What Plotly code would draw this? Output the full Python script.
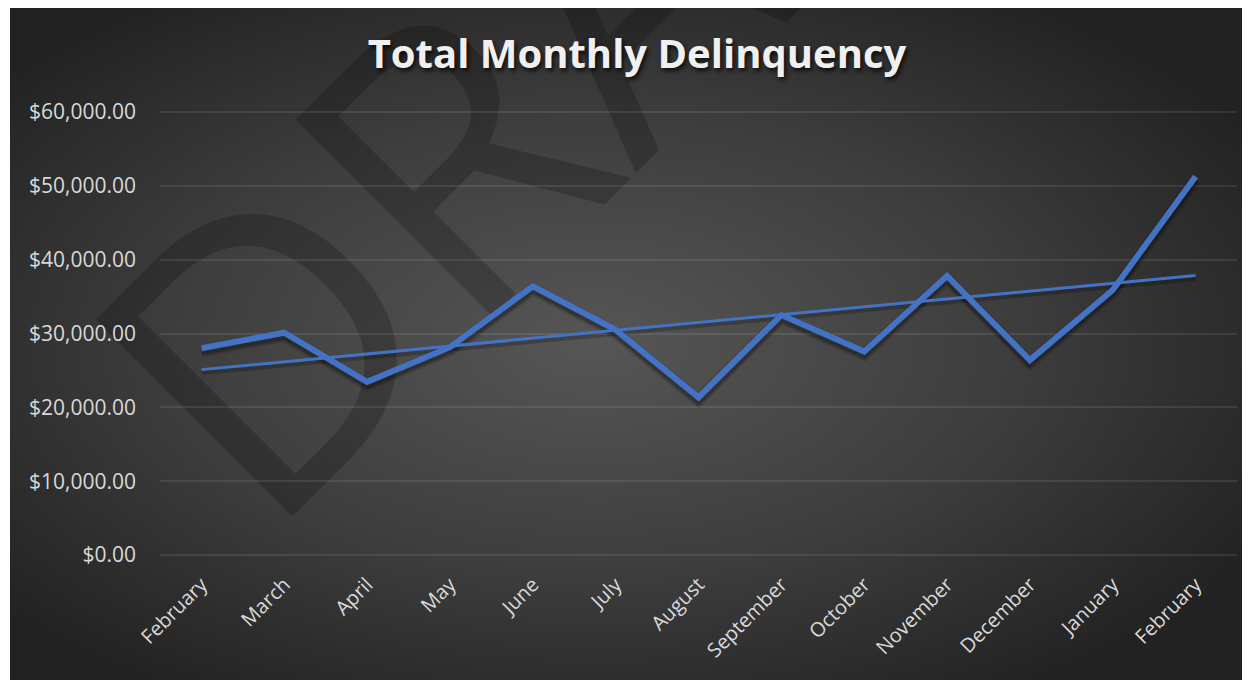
import base64
import numpy as np
import plotly.graph_objects as go

# ---------------- data ----------------
months = ["February", "March", "April", "May", "June", "July", "August",
          "September", "October", "November", "December", "January", "February"]
delinquency = [28000, 30100, 23450, 28150, 36400, 30500, 21350,
               32500, 27550, 37800, 26400, 35900, 51250]
y_tick_values = [0, 10000, 20000, 30000, 40000, 50000, 60000]
title_text = "Total Monthly Delinquency"
watermark_text = "DRAFT"

# ---------------- derived ----------------
idx = list(range(len(months)))
coef = np.polyfit(idx, delinquency, 1)
trend = list(np.polyval(coef, idx))

# page has an 8px body margin; work in page pixels and convert
OFF = 8
W, H = 1250 - OFF, 680 - OFF
YMAX = 60000
# page pixel positions of plot frame
P_LEFT, P_RIGHT, P_TOP, P_BOT = 160, 1237, 112, 555
scale = (P_BOT - P_TOP) / YMAX
pad_px = 2
pad = pad_px / scale

L = P_LEFT - OFF
R = W - (P_RIGHT - OFF)
T = (P_TOP - OFF) - pad_px
B = H - (P_BOT - OFF) - pad_px
PW = W - L - R
PH = H - T - B


def px(xp):
    return (xp - OFF - L) / PW


def py(yp):
    return (H - B - (yp - OFF)) / PH


# background panel (radial gradient) as svg image
panel_w, panel_h = 1240, 674
svg = (
    f"<svg xmlns='http://www.w3.org/2000/svg' width='{panel_w}' height='{panel_h}' "
    f"viewBox='0 0 {panel_w} {panel_h}' preserveAspectRatio='none'>"
    "<defs><radialGradient id='g' cx='0.47' cy='0.5' r='0.62'>"
    "<stop offset='0' stop-color='#565656'/>"
    "<stop offset='0.55' stop-color='#3d3d3d'/>"
    "<stop offset='1' stop-color='#222222'/>"
    "</radialGradient></defs>"
    f"<rect width='{panel_w}' height='{panel_h}' fill='url(#g)'/></svg>"
)
svg_uri = "data:image/svg+xml;base64," + base64.b64encode(svg.encode()).decode()

blue = "#4472C4"
shadow_shift = 3 / scale  # 3 px downward on the shadow axis

fig = go.Figure()

# shadows (base axis y, shifted down, hidden)
fig.add_trace(go.Scatter(x=idx, y=delinquency, mode="lines", yaxis="y",
                         line=dict(color="rgba(0,0,0,0.14)", width=12),
                         hoverinfo="skip", showlegend=False))
fig.add_trace(go.Scatter(x=idx, y=delinquency, mode="lines", yaxis="y",
                         line=dict(color="rgba(0,0,0,0.25)", width=8),
                         hoverinfo="skip", showlegend=False))
fig.add_trace(go.Scatter(x=idx, y=trend, mode="lines", yaxis="y",
                         line=dict(color="rgba(0,0,0,0.22)", width=5),
                         hoverinfo="skip", showlegend=False))
# trend line (visible value axis y2)
fig.add_trace(go.Scatter(x=idx, y=trend, mode="lines", yaxis="y2",
                         line=dict(color=blue, width=3),
                         name="Linear (Total)", showlegend=False))
# main series
fig.add_trace(go.Scatter(x=idx, y=delinquency, mode="lines", yaxis="y2",
                         line=dict(color=blue, width=6),
                         name="Total", showlegend=False))

# watermark centre (page pixels)
wm_cx = px(597)
wm_cy = py(36)

fig.update_layout(
    width=W, height=H,
    margin=dict(l=L, r=R, t=T, b=B, pad=0),
    paper_bgcolor="white",
    plot_bgcolor="rgba(0,0,0,0)",
    showlegend=False,
    title=dict(text=title_text, x=px(637), xref="paper", xanchor="center",
               y=1 - (54 - OFF) / H, yref="container", yanchor="middle",
               font=dict(family="Open Sans", size=40, color="#f0f0f0", weight="bold",
                         shadow="2px 3px 4px rgba(0,0,0,0.75)")),
    xaxis=dict(range=[-0.5, len(months) - 0.5], tickmode="array", tickvals=idx,
               ticktext=months, tickangle=-45, showgrid=False, zeroline=False,
               showline=False, ticks="", ticklabelstandoff=11,
               tickfont=dict(family="Open Sans", size=20, color="#d9d9d9")),
    yaxis=dict(range=[-pad + shadow_shift, YMAX + pad + shadow_shift],
               showgrid=False, zeroline=False, showline=False, ticks="",
               showticklabels=False),
    yaxis2=dict(range=[-pad, YMAX + pad], overlaying="y", side="left",
                tickmode="array", tickvals=y_tick_values,
                tickformat="$,.2f", showgrid=True, gridcolor="rgba(255,255,255,0.09)",
                gridwidth=2, zeroline=False, showline=False, ticks="",
                ticklabelstandoff=23,
                tickfont=dict(family="Open Sans", size=21, color="#d9d9d9")),
    images=[dict(source=svg_uri, xref="paper", yref="paper",
                 x=px(10), y=py(6),
                 sizex=panel_w / PW, sizey=panel_h / PH,
                 xanchor="left", yanchor="top", sizing="stretch", layer="below")],
    shapes=[dict(type="rect", xref="paper", yref="paper",
                 x0=wm_cx - 0.005, x1=wm_cx + 0.005, y0=wm_cy - 0.005, y1=wm_cy + 0.005,
                 line=dict(width=0), fillcolor="rgba(0,0,0,0)", layer="below",
                 label=dict(text=watermark_text, textangle=-45, textposition="middle center",
                            font=dict(family="Open Sans", size=390,
                                      color="rgba(0,0,0,0.2)")))],
)

fig.write_html("out.html")
